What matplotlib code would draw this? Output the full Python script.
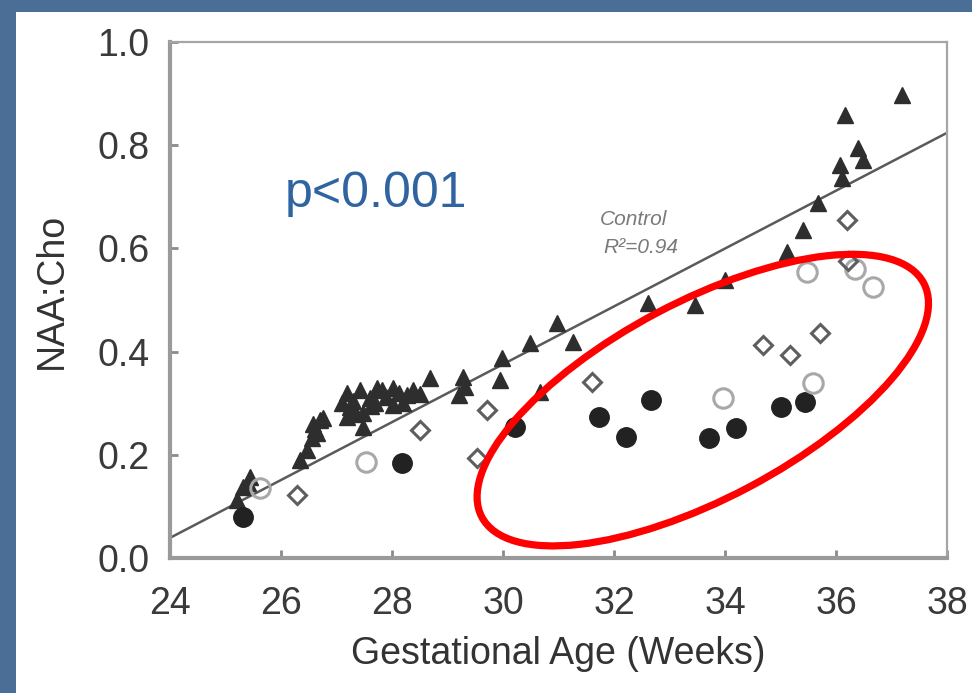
import matplotlib
matplotlib.use("Agg")
import matplotlib.pyplot as plt
import numpy as np
from matplotlib.patches import Ellipse, Rectangle
from matplotlib.transforms import ScaledTranslation

plt.rcParams['font.family'] = ['Liberation Sans', 'DejaVu Sans']

# ---- data ----
ctrl_x = [37.19, 36.16, 36.40, 36.49, 36.07, 36.11, 35.68, 35.41, 35.12, 34.00, 33.46, 32.61,
          30.97, 31.26, 30.49, 29.98, 29.95, 30.67, 29.32, 29.28, 28.68,
          27.19, 27.42, 27.73, 28.02, 28.27, 27.24, 27.48, 27.19, 28.02, 28.38, 27.48,
          26.70, 26.65, 26.47, 26.34, 26.58, 25.44, 25.32, 25.20, 29.20,
          27.30, 27.60, 27.90, 28.12, 27.10, 27.35, 27.62, 28.20, 27.82, 26.62, 26.76,
          26.55, 25.40, 28.50, 27.70]
ctrl_y = [0.897, 0.859, 0.795, 0.771, 0.762, 0.736, 0.688, 0.636, 0.593, 0.539, 0.490, 0.494,
          0.455, 0.419, 0.417, 0.388, 0.345, 0.322, 0.331, 0.350, 0.349,
          0.320, 0.326, 0.330, 0.330, 0.316, 0.293, 0.281, 0.273, 0.297, 0.326, 0.254,
          0.267, 0.242, 0.209, 0.190, 0.260, 0.157, 0.138, 0.112, 0.315,
          0.305, 0.310, 0.312, 0.320, 0.300, 0.280, 0.295, 0.300, 0.325, 0.250, 0.272,
          0.232, 0.145, 0.318, 0.300]

filled_x = [25.32, 28.18, 30.22, 31.73, 32.22, 32.67, 33.71, 34.20, 35.00, 35.44]
filled_y = [0.079, 0.184, 0.254, 0.273, 0.234, 0.306, 0.232, 0.252, 0.293, 0.303]

opencirc_x = [25.62, 27.53, 33.96, 35.59, 35.48, 36.67, 36.35]
opencirc_y = [0.135, 0.186, 0.310, 0.339, 0.554, 0.525, 0.560]

diamond_x = [26.29, 28.50, 29.71, 29.53, 31.60, 34.68, 35.17, 35.71, 36.22, 36.20]
diamond_y = [0.122, 0.248, 0.287, 0.194, 0.341, 0.413, 0.393, 0.436, 0.575, 0.655]

fit_x = [24, 38]
fit_y = [0.039, 0.824]

x_ticks = [24, 26, 28, 30, 32, 34, 36, 38]
y_ticks = [0.0, 0.2, 0.4, 0.6, 0.8, 1.0]
y_ticklabels = ['0.0', '0.2', '0.4', '0.6', '0.8', '1.0']

# ---- figure ----
fig = plt.figure(figsize=(9.72, 6.93), dpi=100)
fig.patch.set_facecolor('#4A6E96')
bg = Rectangle((16 / 972, 0), 1, 1 - 12 / 693, transform=fig.transFigure,
               facecolor='white', edgecolor='none', zorder=-10)
fig.add_artist(bg)

ax = fig.add_axes([170 / 972, (693 - 558) / 693, (947 - 170) / 972, (558 - 42) / 693])
ax.set_zorder(1)
ax.set_facecolor('white')
ax.set_xlim(24, 38)
ax.set_ylim(0, 1.0)

ax.plot(fit_x, fit_y, color='#5a5a5a', lw=1.8, zorder=2)

ax.plot(ctrl_x, ctrl_y, linestyle='none', marker='^', ms=12, color='#2e2e2e', zorder=3)
ax.plot(filled_x, filled_y, linestyle='none', marker='o', ms=14, color='#222222', zorder=3)
ax.plot(opencirc_x, opencirc_y, linestyle='none', marker='o', ms=14, mfc='none',
        mec='#a8a8a8', mew=2.2, zorder=3)
ax.plot(diamond_x, diamond_y, linestyle='none', marker='D', ms=9, mfc='none',
        mec='#5e5e5e', mew=2.2, zorder=3)

ax.text(26.07, 0.680, 'p<0.001', fontsize=36, color='#2F64A0', va='baseline', ha='left')
ax.text(31.75, 0.645, 'Control', fontsize=15, color='#7a7a7a', style='italic',
        va='baseline', ha='left')
ax.text(31.80, 0.591, 'R²=0.94', fontsize=15, color='#7a7a7a', style='italic',
        va='baseline', ha='left')

# red ellipse annotation (pixel-isotropic)
ell_cx, ell_cy = 33.60, 0.306
tr = fig.dpi_scale_trans + ScaledTranslation(ell_cx, ell_cy, ax.transData)
ell = Ellipse((0, 0), width=5.0, height=1.97, angle=27.9, transform=tr,
              facecolor='none', edgecolor='#FF0000', lw=5.2, zorder=5, clip_on=False)
ax.add_patch(ell)

# spines
for s in ['left', 'bottom']:
    ax.spines[s].set_color('#9a9a9a')
    ax.spines[s].set_linewidth(3)
for s in ['top', 'right']:
    ax.spines[s].set_color('#a5a5a5')
    ax.spines[s].set_linewidth(1.6)

ax.set_xticks(x_ticks)
ax.set_xticklabels([str(t) for t in x_ticks])
ax.set_yticks(y_ticks)
ax.set_yticklabels(y_ticklabels)
ax.tick_params(axis='both', direction='in', length=6, width=2, color='#8a8a8a',
               labelsize=27, labelcolor='#3a3a3a')
ax.tick_params(axis='x', pad=20)
ax.tick_params(axis='y', pad=15)

ax.set_xlabel('Gestational Age (Weeks)', fontsize=27, color='#333333', labelpad=10)
ax.set_ylabel('NAA:Cho', fontsize=27, color='#333333', labelpad=14)
ax.yaxis.set_label_coords(-0.129, 0.517)

fig.savefig('out.png', dpi=100, facecolor=fig.get_facecolor())
